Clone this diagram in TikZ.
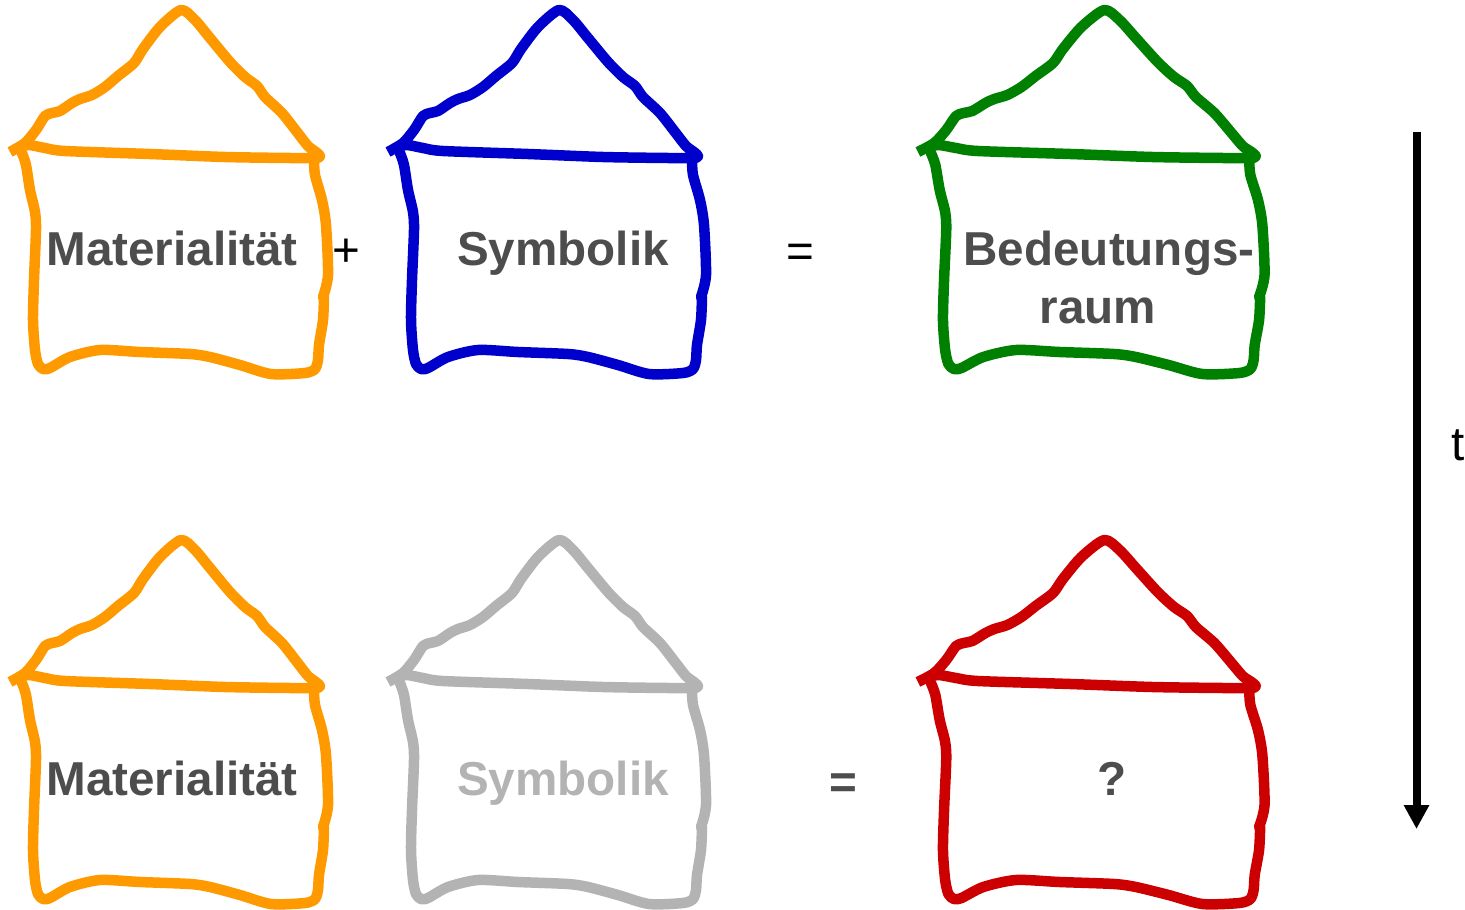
\documentclass[tikz,border=0pt]{standalone}
\usepackage{fontspec}
\setmainfont{Liberation Sans}
\usetikzlibrary{arrows.meta}
\definecolor{matorange}{HTML}{FF9900}
\definecolor{symblue}{HTML}{0000CC}
\definecolor{bedgreen}{HTML}{008000}
\definecolor{fadegray}{HTML}{B3B3B3}
\definecolor{lossred}{HTML}{CC0000}
\definecolor{textgray}{HTML}{4D4D4D}
\tikzset{
	houseline/.style={line width=10.5pt,line cap=round,line join=round},
	hauslabel/.style={font=\fontsize{47.6}{58}\selectfont\bfseries,text=textgray,inner sep=0pt,anchor=base},
	signlabel/.style={font=\fontsize{47.6}{58}\selectfont,inner sep=0pt}
}
\newcommand{\drawhouse}[1]{
	%Roof
	\draw [houseline,line cap=butt,#1] plot [smooth,tension=0.45] coordinates {(10,152) (25,143) (36,130) (45,116) (52,113) (60,111) (72,103) (80,99) (92,95) (105,87) (118,76) (134,63) (143,49) (160,27) (181,10) (195,20) (210,38) (230,62) (245,77) (257,86) (265,97) (282,113) (297,132) (308,146) (316,152) (320,156) (316,158) (290,158) (225,157) (150,154) (65,151) (45,148) (28,145) (15,149)};
	%Walls and floor
	\draw [houseline,#1] plot [smooth,tension=0.45] coordinates {(22,153) (26,165) (30,190) (35,212) (36,230) (34,280) (33,320) (35,350) (38,364) (43,369) (50,368) (70,357) (100,350) (140,352) (190,354) (210,357) (240,365) (271,374) (305,373) (315,369) (318,360) (319,345) (323,320) (324,297)};
	\draw [houseline,#1] plot [smooth,tension=0.45] coordinates {(323,297) (328,275) (326,225) (322,200) (315,175) (314,160)};
}

\begin{document}
\begin{tikzpicture}[x=1pt,y=-1pt]
	\useasboundingbox (0,0) rectangle (1465,910);

	%Houses at the top
	\begin{scope}
		\drawhouse{matorange}
	\end{scope}
	\begin{scope}[shift={(378,0)}]
		\drawhouse{symblue}
	\end{scope}
	\begin{scope}[shift={(907,0)},xscale=1.09]
		\drawhouse{bedgreen}
	\end{scope}

	%Houses at the bottom
	\begin{scope}[shift={(0,530)}]
		\drawhouse{matorange}
	\end{scope}
	\begin{scope}[shift={(378,530)}]
		\drawhouse{fadegray}
	\end{scope}
	\begin{scope}[shift={(907,530)},xscale=1.09]
		\drawhouse{lossred}
	\end{scope}

	%Labels at the top
	\node [hauslabel] (mat1) at (172,265) {Materialität};
	\node [signlabel] (plus) at (346,253) {+};
	\node [hauslabel] (sym1) at (563,265) {Symbolik};
	\node [signlabel] (eq1) at (800,256) {=};
	\node [hauslabel] (bed1) at (1109,265) {Bedeutungs-};
	\node [hauslabel] (bed2) at (1098,323) {raum};

	%Labels at the bottom
	\node [hauslabel] (mat2) at (172,795) {Materialität};
	\node [hauslabel,text=fadegray] (sym2) at (563,795) {Symbolik};
	\node [hauslabel,anchor=center] (eq2) at (843,786) {=};
	\node [hauslabel] (quest) at (1112,795) {?};

	%Time axis
	\coordinate (tstart) at (1416.5,132);
	\coordinate (tend) at (1416.5,829);
	\draw [line width=8pt,-{Triangle[length=24pt,width=24pt]}] (tstart) -- (tend);
	\node [signlabel] (tlabel) at (1458,445) {t};
\end{tikzpicture}
\end{document}
